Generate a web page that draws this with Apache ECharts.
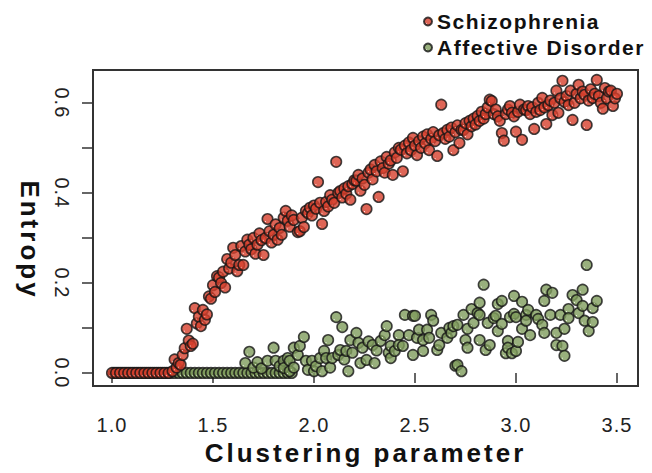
<!DOCTYPE html>
<html>
<head>
<meta charset="utf-8">
<title>Entropy vs clustering parameter</title>
<script src="https://cdn.jsdelivr.net/npm/echarts@6/dist/echarts.min.js"></script>
<style>
html, body { margin: 0; padding: 0; background: #fff; }
#chart { width: 652px; height: 473px; }
/* the original figure uses loosely tracked type */
#chart text[style*="20px"] { letter-spacing: 1px; }
#chart text[style*="21px"] { letter-spacing: 1.5px; }
#chart text[style*="26px"] { letter-spacing: 3px; }
</style>
</head>
<body>
<div id="chart"></div>
<script>
var xTicks = [1.0, 1.5, 2.0, 2.5, 3.0, 3.5];
var yTicks = [0, 0.1, 0.2, 0.3, 0.4, 0.5, 0.6];
var yLabels = [0, 0.2, 0.4, 0.6];

// [clustering parameter, entropy]
var schizophrenia = [
	[1.00,0],[1.02,0],[1.04,0],[1.06,0],[1.08,0],[1.10,0],[1.12,0],[1.14,0],
	[1.16,0],[1.18,0],[1.20,0],[1.22,0],[1.24,0],[1.26,0],[1.28,0],
	[1.30,0.004],[1.31,0.030],[1.32,0.012],[1.33,0.022],[1.34,0.018],[1.35,0.040],
	[1.36,0.055],[1.37,0.098],[1.38,0.072],[1.39,0.060],[1.40,0.065],[1.41,0.144],
	[1.42,0.110],[1.43,0.125],[1.44,0.104],[1.45,0.140],[1.46,0.118],[1.47,0.130],
	[1.48,0.170],[1.49,0.165],[1.50,0.195],[1.51,0.180],[1.52,0.215],[1.53,0.212],
	[1.54,0.200],[1.55,0.225],[1.56,0.190],[1.57,0.253],[1.58,0.232],[1.59,0.245],
	[1.60,0.278],[1.61,0.262],[1.62,0.226],[1.63,0.240],[1.64,0.282],[1.65,0.240],
	[1.66,0.270],[1.67,0.296],[1.68,0.285],[1.69,0.275],[1.70,0.300],[1.71,0.265],
	[1.72,0.285],[1.73,0.310],[1.74,0.295],[1.75,0.262],[1.76,0.300],[1.77,0.342],
	[1.78,0.315],[1.79,0.290],[1.80,0.307],[1.81,0.330],[1.82,0.296],[1.83,0.322],
	[1.84,0.307],[1.85,0.345],[1.86,0.360],[1.87,0.338],[1.88,0.325],[1.89,0.350],
	[1.90,0.340],[1.92,0.313],[1.93,0.315],[1.94,0.345],[1.95,0.324],[1.96,0.360],
	[1.97,0.355],[1.98,0.367],[1.99,0.350],[2.00,0.372],[2.01,0.365],[2.02,0.424],
	[2.03,0.378],[2.04,0.331],[2.05,0.360],[2.06,0.380],[2.07,0.370],[2.08,0.395],
	[2.09,0.385],[2.10,0.378],[2.11,0.469],[2.12,0.400],[2.13,0.404],[2.14,0.390],
	[2.15,0.410],[2.16,0.398],[2.17,0.415],[2.18,0.385],[2.19,0.420],[2.20,0.428],
	[2.21,0.427],[2.22,0.440],[2.23,0.405],[2.24,0.432],[2.25,0.418],[2.26,0.364],
	[2.27,0.445],[2.28,0.452],[2.29,0.430],[2.30,0.462],[2.31,0.448],[2.32,0.391],
	[2.33,0.470],[2.34,0.455],[2.35,0.445],[2.36,0.480],[2.37,0.465],[2.38,0.472],
	[2.39,0.440],[2.40,0.490],[2.41,0.478],[2.42,0.500],[2.43,0.496],[2.44,0.448],
	[2.45,0.505],[2.46,0.488],[2.47,0.512],[2.48,0.495],[2.49,0.522],[2.50,0.505],
	[2.51,0.484],[2.52,0.515],[2.53,0.500],[2.54,0.525],[2.55,0.510],[2.56,0.530],
	[2.57,0.495],[2.58,0.520],[2.59,0.535],[2.60,0.515],[2.61,0.482],[2.62,0.528],
	[2.63,0.596],[2.64,0.533],[2.65,0.520],[2.66,0.540],[2.67,0.525],[2.68,0.545],
	[2.69,0.495],[2.70,0.535],[2.71,0.550],[2.72,0.511],[2.73,0.540],[2.74,0.540],
	[2.75,0.555],[2.76,0.530],[2.77,0.560],[2.78,0.548],[2.79,0.565],[2.80,0.552],
	[2.81,0.571],[2.82,0.560],[2.83,0.580],[2.84,0.565],[2.85,0.575],[2.86,0.590],
	[2.87,0.607],[2.88,0.604],[2.89,0.575],[2.90,0.585],[2.91,0.570],[2.92,0.560],
	[2.93,0.533],[2.94,0.516],[2.95,0.575],[2.96,0.585],[2.97,0.593],[2.98,0.578],
	[2.99,0.570],[3.00,0.536],[3.01,0.580],[3.02,0.596],[3.03,0.518],[3.04,0.585],
	[3.05,0.584],[3.06,0.593],[3.07,0.575],[3.08,0.590],[3.09,0.542],[3.10,0.580],
	[3.11,0.600],[3.12,0.584],[3.13,0.611],[3.14,0.590],[3.15,0.553],[3.16,0.595],
	[3.17,0.605],[3.18,0.573],[3.19,0.600],[3.20,0.627],[3.21,0.578],[3.22,0.610],
	[3.23,0.649],[3.24,0.602],[3.25,0.615],[3.26,0.595],[3.27,0.627],[3.28,0.562],
	[3.29,0.600],[3.30,0.620],[3.31,0.640],[3.32,0.610],[3.33,0.625],[3.34,0.618],
	[3.35,0.551],[3.36,0.605],[3.37,0.630],[3.38,0.611],[3.39,0.620],[3.40,0.651],
	[3.41,0.615],[3.42,0.600],[3.43,0.587],[3.44,0.633],[3.45,0.610],[3.46,0.625],
	[3.47,0.627],[3.48,0.593],[3.49,0.610],[3.50,0.620]
];

var affective = [
	[1.01,0],[1.03,0],[1.05,0],[1.07,0],[1.09,0],[1.11,0],[1.13,0],[1.15,0],
	[1.17,0],[1.19,0],[1.21,0],[1.23,0],[1.25,0],[1.27,0],[1.29,0],[1.31,0],
	[1.33,0],[1.35,0],[1.37,0],[1.39,0],[1.41,0],[1.43,0],[1.45,0],[1.47,0],
	[1.49,0],[1.51,0],[1.53,0],[1.55,0],[1.57,0],[1.59,0],[1.61,0],[1.63,0],
	[1.65,0],[1.67,0],[1.69,0],[1.71,0],[1.73,0],[1.75,0],[1.77,0],[1.79,0],
	[1.81,0],[1.83,0],[1.85,0],[1.87,0],[1.89,0],
	[1.66,0.022],[1.68,0.047],[1.70,0.012],[1.72,0.024],[1.74,0.010],[1.77,0.027],
	[1.80,0.056],[1.81,0.027],[1.83,0.015],[1.85,0.027],[1.85,0.011],[1.87,0.033],
	[1.88,0.027],[1.88,0.004],[1.90,0.056],[1.90,0.012],[1.92,0.040],[1.93,0.060],
	[1.95,0.080],[1.96,0.027],[1.97,0.007],[1.99,0.027],[2.00,0.004],[2.01,0.015],
	[2.03,0.033],[2.04,0.004],[2.05,0.049],[2.06,0.033],[2.07,0.073],[2.08,0.012],
	[2.09,0.033],[2.11,0.124],[2.12,0.040],[2.13,0.051],[2.14,0.102],[2.15,0.030],
	[2.16,0.049],[2.17,0.004],[2.18,0.073],[2.19,0.045],[2.21,0.089],[2.22,0.067],
	[2.23,0.022],[2.24,0.056],[2.26,0.029],[2.27,0.070],[2.29,0.062],[2.30,0.022],
	[2.31,0.050],[2.33,0.071],[2.35,0.084],[2.36,0.104],[2.37,0.045],[2.38,0.060],
	[2.38,0.033],[2.40,0.049],[2.42,0.084],[2.42,0.062],[2.44,0.060],[2.45,0.129],
	[2.47,0.084],[2.49,0.127],[2.49,0.040],[2.50,0.127],[2.51,0.078],[2.52,0.096],
	[2.54,0.073],[2.54,0.049],[2.56,0.096],[2.57,0.078],[2.58,0.129],[2.59,0.116],
	[2.61,0.051],[2.62,0.062],[2.63,0.089],[2.66,0.078],[2.67,0.100],[2.68,0.089],
	[2.69,0.104],[2.70,0.016],[2.71,0.107],[2.71,0.018],[2.73,0.004],[2.74,0.129],
	[2.75,0.073],[2.76,0.098],[2.76,0.056],[2.78,0.142],[2.79,0.111],[2.81,0.133],
	[2.82,0.156],[2.82,0.129],[2.82,0.073],[2.84,0.196],[2.85,0.051],[2.86,0.111],
	[2.87,0.062],[2.89,0.122],[2.90,0.127],[2.91,0.153],[2.91,0.093],[2.93,0.160],
	[2.93,0.109],[2.95,0.044],[2.96,0.071],[2.96,0.056],[2.97,0.124],[2.98,0.044],
	[2.99,0.171],[2.99,0.131],[3.00,0.124],[3.00,0.049],[3.01,0.069],[3.03,0.158],
	[3.03,0.098],[3.05,0.129],[3.05,0.116],[3.06,0.140],[3.07,0.084],[3.10,0.129],
	[3.11,0.120],[3.13,0.107],[3.14,0.160],[3.14,0.089],[3.15,0.185],[3.17,0.129],
	[3.18,0.178],[3.20,0.089],[3.20,0.062],[3.22,0.129],[3.23,0.060],[3.24,0.098],
	[3.24,0.038],[3.26,0.142],[3.26,0.122],[3.28,0.173],[3.30,0.162],[3.31,0.133],
	[3.33,0.185],[3.33,0.149],[3.34,0.116],[3.35,0.240],[3.36,0.093],[3.38,0.144],
	[3.38,0.113],[3.40,0.160]
];

var red = '#d63f2c';
var green = '#7f9c5c';
var fontFamily = '"Liberation Sans", Arial, sans-serif';

// little white glint in the lower left of each dot, like the printed figure
function dot(color) {
	return {
		type: 'radial', x: 0.3, y: 0.72, r: 0.5,
		colorStops: [
			{ offset: 0, color: '#ffffff' },
			{ offset: 0.16, color: color },
			{ offset: 1, color: color }
		]
	};
}

function oneDecimal(v) {
	return v.toFixed(1);
}

var myChart = echarts.init(document.getElementById('chart'), null, { renderer: 'svg' });

var option = {
	animation: false,
	backgroundColor: '#fff',
	legend: {
		orient: 'vertical',
		left: 418,
		top: 6,
		itemWidth: 8,
		itemHeight: 8,
		itemGap: 5,
		selectedMode: false,
		data: ['Schizophrenia', 'Affective Disorder'],
		textStyle: {
			fontSize: 21,
			lineHeight: 21,
			fontWeight: 'bold',
			color: '#111',
			fontFamily: fontFamily
		}
	},
	grid: {
		left: 93,
		right: 14,
		top: 70,
		bottom: 87,
		show: true,
		borderColor: '#333',
		borderWidth: 2
	},
	xAxis: {
		type: 'value',
		min: 0.906,
		max: 3.604,
		name: 'Clustering parameter',
		nameLocation: 'middle',
		nameGap: 42,
		nameTextStyle: { fontSize: 26, fontWeight: 'bold', color: '#111', fontFamily: fontFamily },
		axisLine: { show: false },
		splitLine: { show: false },
		axisTick: { show: true, customValues: xTicks, length: 10, lineStyle: { color: '#333', width: 1.5 } },
		axisLabel: { customValues: xTicks, formatter: oneDecimal, margin: 29, fontSize: 20, color: '#222', fontFamily: fontFamily }
	},
	yAxis: {
		type: 'value',
		min: -0.029,
		max: 0.673,
		name: 'Entropy',
		nameLocation: 'middle',
		nameRotate: -90,
		nameGap: 50,
		nameTextStyle: { fontSize: 26, fontWeight: 'bold', color: '#111', fontFamily: fontFamily, padding: [0, 0, 0, 24] },
		axisLine: { show: false },
		splitLine: { show: false },
		axisTick: { show: true, customValues: yTicks, length: 11, lineStyle: { color: '#333', width: 1.5 } },
		axisLabel: { customValues: yLabels, formatter: oneDecimal, rotate: -90, margin: 21, fontSize: 20, color: '#222', fontFamily: fontFamily }
	},
	series: [{
		name: 'Affective Disorder',
		type: 'scatter',
		symbol: 'circle',
		symbolSize: 10.5,
		data: affective,
		itemStyle: { color: dot(green), borderColor: '#151515', borderWidth: 1.6 },
		emphasis: { disabled: true }
	}, {
		name: 'Schizophrenia',
		type: 'scatter',
		symbol: 'circle',
		symbolSize: 10.5,
		data: schizophrenia,
		itemStyle: { color: dot(red), borderColor: '#151515', borderWidth: 1.6 },
		emphasis: { disabled: true }
	}]
};

myChart.setOption(option);
</script>
</body>
</html>
